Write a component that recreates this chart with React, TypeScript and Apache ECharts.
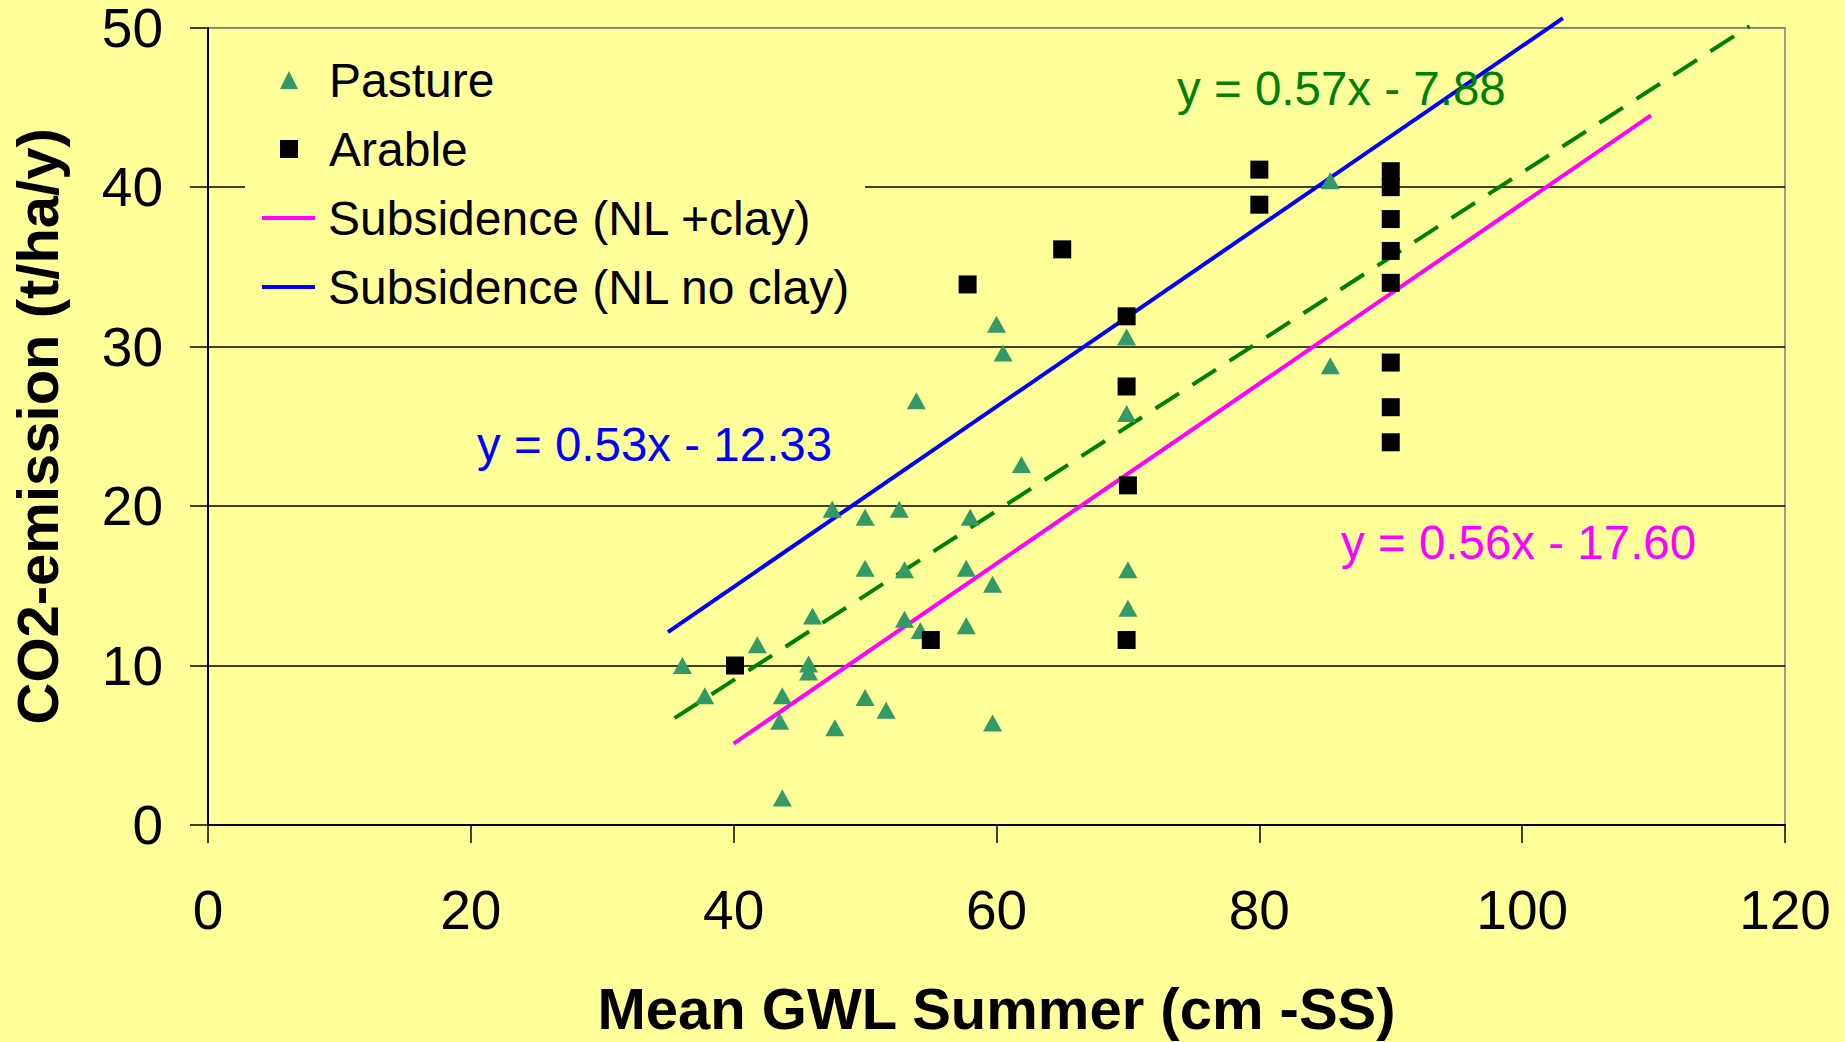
import React, { useEffect, useRef } from "react";
import * as echarts from "echarts";

const FONT = "'Liberation Sans', Arial, Helvetica, sans-serif";

// Pasture measurements (Mean GWL summer, CO2 emission)
const pastureX = [36.1, 37.8, 41.8, 43.7, 43.5, 43.7, 45.7, 45.7, 46.0, 47.7, 50.0, 51.6, 50.0, 53.0, 53.0, 54.2, 57.7, 57.7, 59.7, 59.7, 47.5, 50.0, 52.6, 58.0, 53.9, 60.0, 60.5, 61.9, 69.9, 69.9, 70.0, 70.0, 85.4, 85.4];
const pastureY = [10.0, 8.1, 11.3, 8.1, 6.5, 1.7, 10.1, 9.6, 13.1, 6.1, 8.0, 7.2, 16.1, 16.0, 12.9, 12.2, 16.1, 12.5, 15.1, 6.4, 19.8, 19.3, 19.8, 19.3, 26.6, 31.4, 29.6, 22.6, 30.6, 25.8, 16.0, 13.6, 40.4, 28.8];

// Arable measurements
const arableX = [40.1, 55.0, 57.8, 65.0, 69.9, 69.9, 70.0, 69.9, 80.0, 80.0, 90.0, 90.0, 90.0, 90.0, 90.0, 90.0, 90.0, 90.0];
const arableY = [10.0, 11.6, 33.9, 36.1, 31.9, 27.5, 21.3, 11.6, 41.1, 38.9, 41.0, 40.0, 38.0, 36.0, 34.0, 29.0, 26.2, 24.0];

// Subsidence relations (line end points)
const clayLineX = [40.0, 109.8];
const clayLineY = [5.1, 44.5];
const noClayLineX = [35.0, 103.1];
const noClayLineY = [12.1, 50.6];
// Trend line of the measurements (dashed)
const trendX = [35.5, 117.3];
const trendY = [6.7, 50.1];

// Equation labels
const eqBlue = "y = 0.53x - 12.33";
const eqGreen = "y = 0.57x - 7.88";
const eqMagenta = "y = 0.56x - 17.60";

const seriesNames = ["Pasture", "Arable", "Subsidence (NL +clay)", "Subsidence (NL no clay)"];
const xTitle = "Mean GWL Summer (cm -SS)";
const yTitle = "CO2-emission (t/ha/y)";

const zip = (xs: number[], ys: number[]) => xs.map((x, i) => [x, ys[i]]);

export default function App() {
  const ref = useRef<HTMLDivElement>(null);
  useEffect(() => {
    if (!ref.current) return;
    const chart = echarts.init(ref.current, undefined, { renderer: "svg" });
    const legendText = { fontSize: 48, color: "#000", fontFamily: FONT };
    chart.setOption({
      animation: false,
      backgroundColor: "#FFFF99",
      grid: {
        left: 208,
        right: 60,
        top: 27.7,
        bottom: 214.5,
        show: true,
        borderColor: "#808080",
        borderWidth: 1.5,
        backgroundColor: "transparent",
      },
      legend: [
        {
          orient: "vertical",
          left: 245,
          top: 56,
          padding: [0, 14, 0, 35],
          itemGap: 21,
          itemWidth: 18,
          itemHeight: 18,
          backgroundColor: "#FFFF99",
          textStyle: { ...legendText, padding: [0, 0, 0, 26] },
          data: [
            { name: seriesNames[0], icon: "triangle" },
            { name: seriesNames[1], icon: "rect" },
          ],
        },
        {
          orient: "vertical",
          left: 245,
          top: 179,
          padding: [15, 14, 12, 17],
          itemGap: 21,
          itemWidth: 53,
          itemHeight: 4,
          backgroundColor: "#FFFF99",
          textStyle: { ...legendText, padding: [0, 0, 0, 8] },
          data: [
            { name: seriesNames[2], icon: "rect" },
            { name: seriesNames[3], icon: "rect" },
          ],
        },
      ],
      xAxis: {
        type: "value",
        min: 0,
        max: 120,
        interval: 20,
        name: xTitle,
        nameLocation: "middle",
        nameGap: 154,
        nameTextStyle: { fontSize: 58, fontWeight: "bold", color: "#000", fontFamily: FONT },
        axisLine: { show: true, onZero: false, lineStyle: { color: "#000", width: 2 } },
        axisTick: { show: true, inside: false, length: 18, lineStyle: { color: "#000", width: 1.5 } },
        axisLabel: { fontSize: 55, color: "#000", fontFamily: FONT, margin: 57 },
        splitLine: { show: false },
      },
      yAxis: {
        type: "value",
        min: 0,
        max: 50,
        interval: 10,
        name: yTitle,
        nameLocation: "middle",
        nameGap: 142,
        nameTextStyle: { fontSize: 58, fontWeight: "bold", color: "#000", fontFamily: FONT },
        axisLine: { show: true, lineStyle: { color: "#000", width: 2 } },
        axisTick: { show: true, inside: false, length: 18, lineStyle: { color: "#000", width: 1.5 } },
        axisLabel: { fontSize: 55, color: "#000", fontFamily: FONT, margin: 45 },
        splitLine: {
          show: true,
          lineStyle: { color: ["#000", "#000", "#000", "#000", "#000", "#808080"], width: 1.5 },
        },
      },
      series: [
        {
          name: seriesNames[2],
          type: "line",
          data: zip(clayLineX, clayLineY),
          symbol: "none",
          lineStyle: { color: "#FF00FF", width: 4 },
          itemStyle: { color: "#FF00FF" },
          z: 3,
        },
        {
          name: seriesNames[3],
          type: "line",
          data: zip(noClayLineX, noClayLineY),
          symbol: "none",
          clip: false,
          lineStyle: { color: "#0000FF", width: 4 },
          itemStyle: { color: "#0000FF" },
          z: 3,
        },
        {
          name: "trend",
          type: "line",
          data: zip(trendX, trendY),
          symbol: "none",
          clip: false,
          lineStyle: { color: "#008000", width: 4, type: [28, 16] },
          itemStyle: { color: "#008000" },
          z: 3,
        },
        {
          name: seriesNames[0],
          type: "scatter",
          data: zip(pastureX, pastureY),
          symbol: "triangle",
          symbolSize: [19, 17],
          itemStyle: { color: "#339966", opacity: 1 },
          z: 4,
        },
        {
          name: seriesNames[1],
          type: "scatter",
          data: zip(arableX, arableY),
          symbol: "rect",
          symbolSize: 18,
          itemStyle: { color: "#000", opacity: 1 },
          z: 4,
        },
      ],
      graphic: [
        {
          type: "text",
          left: 477,
          top: 447 - 27,
          z: 100,
          style: { text: eqBlue, fill: "#0000FF", fontSize: 47.5, fontFamily: FONT },
        },
        {
          type: "text",
          left: 1177,
          top: 91 - 27,
          z: 100,
          style: { text: eqGreen, fill: "#008000", fontSize: 47.5, fontFamily: FONT },
        },
        {
          type: "text",
          left: 1341,
          top: 545 - 27,
          z: 100,
          style: { text: eqMagenta, fill: "#FF00FF", fontSize: 47.5, fontFamily: FONT },
        },
      ],
    });
    return () => chart.dispose();
  }, []);
  return (
    <div
      ref={ref}
      style={{ position: "absolute", left: 0, top: 0, width: 1845, height: 1042 }}
    />
  );
}
